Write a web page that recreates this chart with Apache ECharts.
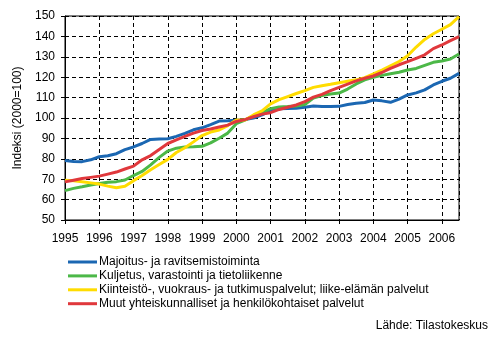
<!DOCTYPE html>
<html>
<head>
<meta charset="utf-8">
<script src="https://cdn.jsdelivr.net/npm/echarts@6/dist/echarts.min.js"></script>
<style>
  html, body { margin: 0; padding: 0; background: #fff; }
  #chart { width: 497px; height: 340px; }
</style>
</head>
<body>
<div id="chart"></div>
<script>
// Quarterly time points (decimal year at the start of each quarter)
const periods = [
  1995, 1995.25, 1995.5, 1995.75, 1996, 1996.25, 1996.5, 1996.75,
  1997, 1997.25, 1997.5, 1997.75, 1998, 1998.25, 1998.5, 1998.75,
  1999, 1999.25, 1999.5, 1999.75, 2000, 2000.25, 2000.5, 2000.75,
  2001, 2001.25, 2001.5, 2001.75, 2002, 2002.25, 2002.5, 2002.75,
  2003, 2003.25, 2003.5, 2003.75, 2004, 2004.25, 2004.5, 2004.75,
  2005, 2005.25, 2005.5, 2005.75, 2006, 2006.25, 2006.5
];

// Index values (2000=100)
const majoitus = [
  79.2, 78.7, 78.6, 79.5, 81.0, 81.5, 82.5, 84.5,
  85.8, 87.5, 89.5, 89.7, 89.8, 91.0, 92.5, 94.2,
  95.2, 96.8, 98.5, 98.6, 98.9, 99.2, 100.0, 101.5,
  103.6, 104.5, 104.7, 104.8, 105.3, 105.9, 105.6, 105.6,
  105.7, 106.6, 107.2, 107.6, 108.8, 108.4, 107.7, 109.3,
  111.3, 112.3, 113.8, 116.2, 118.0, 119.5, 121.9
];
const kuljetus = [
  64.4, 65.5, 66.3, 67.2, 67.9, 68.5, 68.8, 69.6,
  71.8, 73.8, 77.0, 80.7, 83.8, 85.2, 85.8, 85.9,
  86.1, 87.8, 90.1, 92.6, 97.2, 99.0, 101.0, 102.6,
  104.6, 105.4, 105.6, 105.9, 106.6, 109.8, 111.0, 111.8,
  112.2, 114.2, 116.7, 118.7, 119.9, 120.9, 121.7, 122.4,
  123.5, 124.3, 125.8, 127.3, 127.9, 128.9, 131.4
];
const kiinteisto = [
  69.5, 69.2, 68.8, 68.2, 67.6, 66.6, 65.8, 66.5,
  69.3, 71.8, 74.6, 77.2, 79.7, 83.1, 85.4, 88.3,
  91.4, 93.1, 94.1, 96.3, 99.0, 99.0, 101.5, 103.5,
  106.9, 109.0, 110.5, 112.0, 113.4, 115.0, 115.8, 116.5,
  117.3, 118.0, 118.7, 119.8, 121.6, 123.5, 125.6, 127.7,
  130.5, 134.8, 138.5, 141.3, 143.5, 145.8, 149.7
];
const muut = [
  68.7, 69.5, 70.3, 70.9, 71.5, 72.5, 73.5, 75.0,
  76.4, 79.5, 81.6, 84.6, 87.5, 89.3, 91.0, 92.6,
  93.9, 94.6, 95.6, 96.5, 98.3, 99.2, 100.6, 101.9,
  102.6, 104.2, 105.3, 106.4, 108.0, 110.2, 111.6, 113.4,
  115.0, 116.6, 118.2, 119.5, 120.6, 122.3, 124.3, 126.1,
  127.6, 129.2, 131.0, 134.0, 135.8, 137.9, 139.9
];

const seriesNames = [
  'Majoitus- ja ravitsemistoiminta',
  'Kuljetus, varastointi ja tietoliikenne',
  'Kiinteistö-, vuokraus- ja tutkimuspalvelut; liike-elämän palvelut',
  'Muut yhteiskunnalliset ja henkilökohtaiset palvelut'
];
const seriesValues = [majoitus, kuljetus, kiinteisto, muut];
const colors = ['#1b67b2', '#4cb848', '#ffdc00', '#e0383c'];

const FONT = 'Liberation Sans, Arial, sans-serif';
const chart = echarts.init(document.getElementById('chart'), null, { renderer: 'canvas' });

const gridDash = { color: '#000', width: 1, type: [4, 3] };

chart.setOption({
  animation: false,
  backgroundColor: '#fff',
  textStyle: { fontFamily: FONT, color: '#000' },
  grid: {
    left: 65, top: 16, right: 38, bottom: 120,
    show: true, borderColor: '#000', borderWidth: 1, backgroundColor: 'transparent'
  },
  xAxis: {
    type: 'value',
    min: 1995, max: 2006.5, interval: 1,
    axisLine: { show: true, lineStyle: { color: '#000', width: 1 } },
    axisTick: { show: true, length: 4, inside: false, lineStyle: { color: '#000' } },
    axisLabel: {
      color: '#000', fontSize: 12, fontFamily: FONT, margin: 13,
      showMaxLabel: false,
      formatter: v => (Number.isInteger(v) ? String(v) : '')
    },
    splitLine: { show: true, lineStyle: gridDash }
  },
  yAxis: {
    type: 'value',
    min: 50, max: 150, interval: 10,
    name: 'Indeksi (2000=100)',
    nameLocation: 'middle',
    nameGap: 37,
    nameTextStyle: { color: '#000', fontSize: 12, fontFamily: FONT },
    axisLine: { show: true, lineStyle: { color: '#000', width: 1 } },
    axisTick: { show: true, length: 4, inside: false, lineStyle: { color: '#000' } },
    axisLabel: { color: '#000', fontSize: 12, fontFamily: FONT, margin: 10 },
    splitLine: { show: true, lineStyle: gridDash }
  },
  legend: {
    orient: 'vertical',
    left: 68, top: 256,
    icon: 'rect',
    itemWidth: 29, itemHeight: 3,
    itemGap: 1.9,
    padding: 0,
    textStyle: { color: '#000', fontSize: 12, fontFamily: FONT, padding: [0, 0, 0, -3] },
    data: seriesNames
  },
  graphic: [{
    type: 'text',
    right: 9, top: 320,
    style: { text: 'Lähde: Tilastokeskus', fill: '#000', font: '12px ' + FONT }
  }],
  series: seriesNames.map((name, i) => ({
    name,
    type: 'line',
    symbol: 'none',
    color: colors[i],
    lineStyle: { width: 3, color: colors[i] },
    data: periods.map((p, k) => [p, seriesValues[i][k]])
  }))
});
</script>
</body>
</html>
